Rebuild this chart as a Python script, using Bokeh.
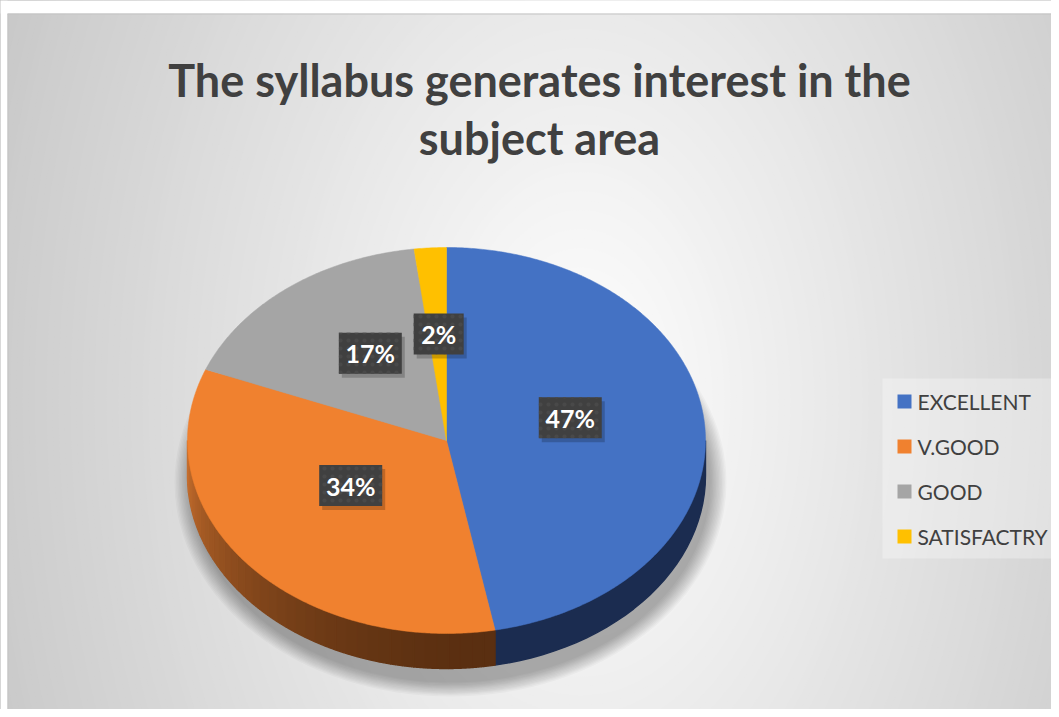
import numpy as np
from bokeh.plotting import figure
from bokeh.models import Range1d, ColumnDataSource
from bokeh.embed import file_html
from bokeh.resources import INLINE
from bokeh.core.properties import value

# ---------------- data ----------------
categories = ["EXCELLENT", "V.GOOD", "GOOD", "SATISFACTRY"]
values = [47, 34, 17, 2]
pct_labels = ["47%", "34%", "17%", "2%"]
title_lines = ["The syllabus generates interest in the", "subject area"]

# ---------------- style ----------------
top_colors = ["#4472C4", "#F0812F", "#A5A5A5", "#FFC000"]
FONT = "Lato"
TXT = "#404040"

W, H = 1051, 709


def dy(py):
    return H - py


p = figure(width=W, height=H, x_range=Range1d(0, W), y_range=Range1d(0, H),
           output_backend="svg", toolbar_location=None, min_border=0,
           x_axis_location=None, y_axis_location=None)
p.grid.visible = False
p.outline_line_color = None
p.background_fill_color = "white"
p.border_fill_color = "white"

# ---------------- background radial gradient ----------------
gcx, gcy = 580, 400
radii = np.arange(720, 0, -6)
g_cols = []
for r in radii:
    frac = min(1.0, r / 680.0)
    g = int(round(255 - (255 - 196) * frac))
    g_cols.append("#%02x%02x%02x" % (g, g, g))
p.ellipse(x=[gcx] * len(radii), y=[dy(gcy)] * len(radii), width=list(2 * radii),
          height=list(2 * radii / 0.63), fill_color=g_cols, line_color=None)

# white margin above / left of chart frame and frame border
p.quad(left=[0], right=[W], top=[dy(0)], bottom=[dy(13)], fill_color="white", line_color=None)
p.quad(left=[0], right=[7], top=[dy(0)], bottom=[dy(H)], fill_color="white", line_color=None)
p.segment(x0=[7], y0=[dy(13.5)], x1=[W], y1=[dy(13.5)], line_color="#c4c4c4", line_width=1)
p.segment(x0=[7.5], y0=[dy(13.5)], x1=[7.5], y1=[dy(H)], line_color="#c4c4c4", line_width=1)

# ---------------- pie geometry ----------------
cx, cy = 446, 440
rx, ry = 259, 193
depth = 35

fr = np.array(values, dtype=float) / sum(values)
ends = np.cumsum(fr) * 360.0
starts = ends - fr * 360.0


def pt(theta_deg, drop=0.0):
    t = np.radians(theta_deg)
    return cx + rx * np.sin(t), dy(cy) + ry * np.cos(t) - drop


# shadow
for i in range(12):
    k = i / 11.0
    p.ellipse(x=[450], y=[dy(482)], width=[2 * (276 - 16 * k)], height=[2 * (214 - 14 * k)],
              fill_color="#000000", fill_alpha=0.028, line_color=None)

# sides (front half only: 90..270 deg)
side_xs, side_ys, side_cols = [], [], []
light = np.array([0xc8, 0x6f, 0x2e])
dark = np.array([0x5a, 0x2f, 0x11])
for i, (a0, a1) in enumerate(zip(starts, ends)):
    s0, s1 = max(a0, 90.0), min(a1, 270.0)
    if s1 <= s0:
        continue
    if i == 0:
        steps = [(s0, s1)]
    else:
        edges = np.linspace(s0, s1, 40)
        steps = list(zip(edges[:-1], edges[1:]))
    for (b0, b1) in steps:
        th = np.linspace(b0, b1, 30)
        tx, ty = pt(th)
        bx, by = pt(th[::-1], depth)
        side_xs.append(list(np.concatenate([tx, bx])))
        side_ys.append(list(np.concatenate([ty, by])))
        if i == 0:
            side_cols.append("#1b2c50")
        else:
            t = ((b0 + b1) / 2 - 169.2) / (270 - 169.2)
            t = min(max(t, 0), 1)
            c = dark + (light - dark) * t ** 1.8
            side_cols.append("#%02x%02x%02x" % tuple(int(v) for v in c))
p.patches(xs=side_xs, ys=side_ys, fill_color=side_cols, line_color=side_cols, line_width=1.4)

# top faces
top_xs, top_ys = [], []
for a0, a1 in zip(starts, ends):
    th = np.linspace(a0, a1, max(4, int((a1 - a0) * 2)))
    ax, ay = pt(th)
    top_xs.append([cx] + list(ax))
    top_ys.append([dy(cy)] + list(ay))
p.patches(xs=top_xs, ys=top_ys, fill_color=top_colors, line_color=top_colors, line_width=0.5)

# ---------------- data labels ----------------
mids = (starts + ends) / 2
lx, ly = [], []
for m in mids:
    x, y = pt(m)
    lx.append(cx + (x - cx) * 0.48)
    ly.append(dy(cy) + (y - dy(cy)) * 0.48 + 14)
bw = [24 + 13 * len(s) for s in pct_labels]
lab = ColumnDataSource(dict(x=lx, y=ly, w=bw, t=pct_labels,
                            sx=[v + 3 for v in lx], sy=[v - 4 for v in ly]))
p.rect(x="sx", y="sy", width="w", height=41, source=lab, fill_color="#000000",
       fill_alpha=0.2, line_color=None)
p.rect(x="x", y="y", width="w", height=41, source=lab, fill_color="#404040",
       line_color=None, hatch_pattern="dot", hatch_color="#494949", hatch_scale=8, hatch_weight=1.0)
p.text(x="x", y="y", text="t", source=lab, text_color="white", text_font=value(FONT),
       text_font_style="bold", text_font_size="25px", text_align="center", text_baseline="middle")

# ---------------- title ----------------
p.text(x=[539, 539], y=[dy(79), dy(137)], text=title_lines, text_color=TXT,
       text_font=value(FONT), text_font_style="bold", text_font_size="45px",
       text_align="center", text_baseline="alphabetic")

# ---------------- legend ----------------
p.quad(left=[882], right=[1051], top=[dy(378)], bottom=[dy(558)], fill_color="white",
       fill_alpha=0.3, line_color=None)
leg_y = [dy(401 + 45 * i) for i in range(len(categories))]
p.rect(x=[904] * len(categories), y=leg_y, width=14, height=14, fill_color=top_colors, line_color=None)
p.text(x=[917] * len(categories), y=leg_y, text=categories, text_color=TXT,
       text_font=value(FONT), text_font_size="21px", text_align="left", text_baseline="middle")

open("out.html", "w").write(file_html(p, INLINE))
